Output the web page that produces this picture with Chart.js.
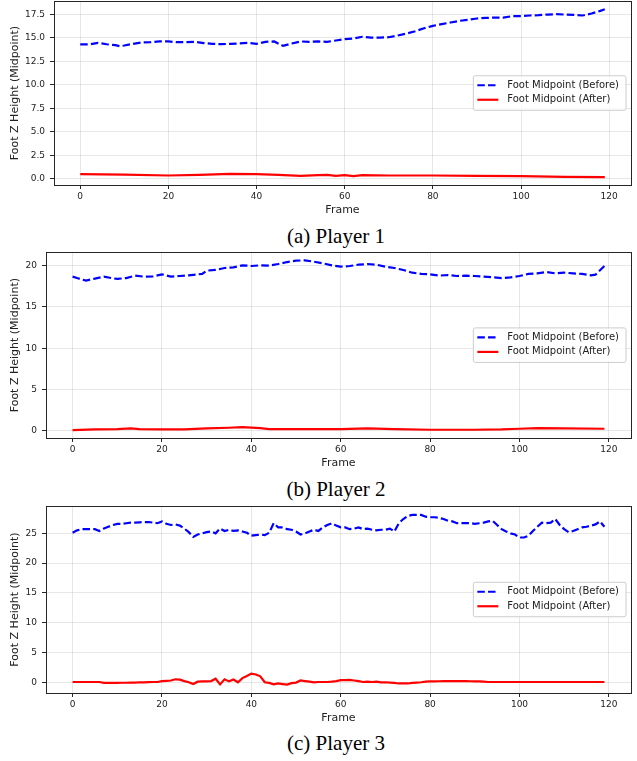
<!DOCTYPE html>
<html>
<head>
<meta charset="utf-8">
<title>Foot Z Height</title>
<script src="https://cdn.jsdelivr.net/npm/chart.js@4.4.1/dist/chart.umd.min.js"></script>
<style>
  html, body { margin: 0; padding: 0; background: #fff; }
  #page { position: relative; width: 637px; height: 761px; overflow: hidden; }
  #page canvas { position: absolute; left: 0; }
  .caption {
    position: absolute; left: 0; width: 672px; text-align: center;
    font-family: "Liberation Serif", "Times New Roman", serif;
    font-size: 21px; line-height: 21px; color: #000; white-space: nowrap;
  }
</style>
</head>
<body>
<div id="page">
  <canvas id="chart1" width="637" height="217" style="top:0px"></canvas>
  <div class="caption" style="top:226px">(a) Player 1</div>
  <canvas id="chart2" width="637" height="225" style="top:245px"></canvas>
  <div class="caption" style="top:479px">(b) Player 2</div>
  <canvas id="chart3" width="637" height="225" style="top:500px"></canvas>
  <div class="caption" style="top:733px">(c) Player 3</div>
</div>
<script>
// shared axis ticks
const xTicks = [0, 20, 40, 60, 80, 100, 120];
const p1YTicks = [0, 2.5, 5, 7.5, 10, 12.5, 15, 17.5];
const p2YTicks = [0, 5, 10, 15, 20];
const p3YTicks = [0, 5, 10, 15, 20, 25];

// Player 1
const p1BeforeFrames = [0, 2, 4, 6, 8, 9, 10, 12, 14, 16, 18, 20, 22, 24, 26, 28, 30, 32, 34, 36, 38, 40, 42, 44, 46, 48, 50, 52, 54, 56, 58, 60, 62, 64, 66, 68, 70, 72, 74, 76, 78, 80, 82, 84, 86, 88, 90, 92, 94, 96, 98, 100, 102, 104, 106, 108, 110, 112, 114, 116, 118, 119];
const p1Before = [14.28, 14.28, 14.45, 14.3, 14.2, 14.1, 14.17, 14.35, 14.5, 14.52, 14.6, 14.6, 14.52, 14.52, 14.56, 14.42, 14.35, 14.31, 14.35, 14.38, 14.45, 14.35, 14.56, 14.6, 14.13, 14.38, 14.6, 14.56, 14.6, 14.56, 14.7, 14.84, 14.91, 15.1, 15.0, 15.0, 15.05, 15.23, 15.44, 15.69, 16.0, 16.26, 16.44, 16.61, 16.79, 16.9, 17.04, 17.1, 17.14, 17.14, 17.29, 17.29, 17.36, 17.39, 17.46, 17.5, 17.46, 17.43, 17.36, 17.57, 17.85, 18.03];
const p1AfterFrames = [0, 10, 20, 27, 34, 40, 45, 50, 54, 56, 58, 60, 62, 64, 70, 80, 90, 100, 110, 119];
const p1After = [0.5, 0.45, 0.35, 0.42, 0.53, 0.5, 0.42, 0.3, 0.4, 0.42, 0.32, 0.39, 0.28, 0.39, 0.35, 0.35, 0.32, 0.28, 0.21, 0.18];

// Player 2
const p2BeforeFrames = [0, 1, 3, 5, 7, 9, 10, 12, 14, 16, 18, 20, 22, 24, 26, 28, 29, 30, 32, 34, 36, 38, 40, 42, 44, 46, 48, 50, 52, 54, 56, 58, 60, 62, 64, 66, 68, 70, 72, 74, 76, 78, 80, 82, 84, 86, 88, 90, 92, 94, 96, 98, 100, 102, 104, 106, 108, 110, 112, 114, 116, 117, 119];
const p2Before = [18.67, 18.5, 18.19, 18.43, 18.67, 18.47, 18.39, 18.5, 18.79, 18.67, 18.71, 18.95, 18.67, 18.75, 18.83, 18.95, 19.0, 19.4, 19.48, 19.72, 19.8, 20.04, 19.96, 20.04, 20.0, 20.2, 20.44, 20.6, 20.65, 20.48, 20.28, 20.04, 19.88, 19.96, 20.12, 20.2, 20.12, 19.88, 19.72, 19.48, 19.15, 19.0, 18.95, 18.79, 18.87, 18.75, 18.79, 18.75, 18.67, 18.59, 18.5, 18.59, 18.75, 19.0, 19.07, 19.23, 19.07, 19.15, 19.07, 19.0, 18.83, 18.91, 19.96];
const p2AfterFrames = [0, 5, 10, 13, 15, 20, 25, 30, 35, 38, 42, 44, 50, 60, 66, 72, 80, 90, 96, 100, 104, 110, 119];
const p2After = [0.08, 0.16, 0.2, 0.28, 0.2, 0.16, 0.16, 0.28, 0.36, 0.44, 0.32, 0.2, 0.2, 0.2, 0.28, 0.2, 0.12, 0.12, 0.16, 0.24, 0.32, 0.28, 0.24];

// Player 3 (one value per frame)
const p3Frames = Array.from({ length: 120 }, (_, i) => i);
const p3Before = [
  25.1, 25.5, 25.7, 25.7, 25.7, 25.7, 25.4, 25.8, 26.1, 26.4,
  26.6, 26.6, 26.7, 26.8, 26.8, 26.85, 26.9, 26.9, 26.8, 26.7,
  27.0, 26.6, 26.4, 26.5, 26.3, 25.8, 25.2, 24.4, 24.8, 25.0,
  25.2, 25.3, 25.0, 25.8, 25.4, 25.6, 25.4, 25.5, 25.3, 25.1,
  24.6, 24.7, 24.8, 24.7, 25.1, 26.7, 26.0, 26.0, 25.7, 25.6,
  25.3, 24.8, 25.0, 25.3, 25.6, 25.4, 26.0, 26.4, 26.7, 26.3,
  26.0, 26.0, 25.7, 25.8, 26.0, 25.7, 25.8, 25.6, 25.5, 25.6,
  25.6, 25.8, 25.3, 26.7, 27.4, 27.9, 28.1, 28.1, 28.1, 27.8,
  27.7, 27.7, 27.6, 27.4, 27.1, 27.0, 26.7, 26.7, 26.7, 26.7,
  26.6, 26.7, 26.8, 27.0, 27.1, 26.4, 25.7, 25.3, 25.0, 24.8,
  24.3, 24.3, 24.6, 25.4, 26.1, 26.8, 26.7, 26.8, 27.4, 26.4,
  25.7, 25.2, 25.4, 25.7, 26.0, 26.1, 26.3, 26.5, 27.0, 26.1
];
const p3After = [
  0.05, 0.05, 0.05, 0.05, 0.05, 0.05, 0.05, -0.1, -0.1, -0.1,
  -0.1, -0.08, -0.08, -0.05, -0.05, 0, 0, 0.03, 0.05, 0.05,
  0.2, 0.25, 0.3, 0.5, 0.45, 0.2, 0, -0.3, 0.1, 0.15,
  0.15, 0.2, 0.6, -0.35, 0.5, 0.15, 0.45, 0, 0.7, 1.05,
  1.45, 1.3, 1.0, 0, -0.1, -0.35, -0.2, -0.3, -0.4, -0.15,
  -0.05, 0.3, 0.2, 0.1, 0, 0.05, 0.05, 0.05, 0.1, 0.2,
  0.35, 0.35, 0.4, 0.3, 0.2, 0.05, 0.1, 0.05, 0.1, 0,
  0, -0.05, -0.1, -0.2, -0.2, -0.2, -0.1, -0.05, 0, 0.1,
  0.15, 0.15, 0.17, 0.18, 0.2, 0.2, 0.2, 0.2, 0.18, 0.17,
  0.15, 0.15, 0.1, 0.05, 0.05, 0.05, 0.05, 0.05, 0.05, 0.05,
  0.05, 0.05, 0.05, 0.05, 0.05, 0.05, 0.05, 0.05, 0.05, 0.05,
  0.05, 0.05, 0.05, 0.05, 0.05, 0.05, 0.05, 0.05, 0.05, 0.05
];

Chart.defaults.font.family = '"DejaVu Sans", sans-serif';

const textColor = '#222222';
const spineColor = '#262626';
const gridColor = 'rgba(176, 176, 176, 0.3)';

function series(frames, values) {
  return frames.map((f, i) => ({ x: f, y: values[i] }));
}

// matplotlib-like box around the axes + legend at "center right"
const frameAndLegend = {
  id: 'frameAndLegend',
  afterDraw(chart) {
    const { ctx, chartArea: a } = chart;
    ctx.save();
    ctx.strokeStyle = spineColor;
    ctx.lineWidth = 1;
    ctx.strokeRect(Math.round(a.left) + 0.5, Math.round(a.top) + 0.5,
      Math.round(a.right - a.left), Math.round(a.bottom - a.top));

    ctx.font = '10px "DejaVu Sans"';
    const sets = chart.data.datasets;
    const textW = Math.max(...sets.map(d => ctx.measureText(d.label).width));
    const w = 34 + textW + 7;
    const h = 34.5;
    const left = a.right - 5 - w;
    const top = (a.top + a.bottom) / 2 - h / 2;
    ctx.beginPath();
    ctx.roundRect(left, top, w, h, 2);
    ctx.fillStyle = 'rgba(255, 255, 255, 0.8)';
    ctx.fill();
    ctx.strokeStyle = '#cccccc';
    ctx.stroke();
    sets.forEach((d, i) => {
      const y = top + 9.5 + i * 14.5;
      ctx.beginPath();
      ctx.setLineDash(d.borderDash || []);
      ctx.strokeStyle = d.borderColor;
      ctx.lineWidth = d.borderWidth;
      ctx.moveTo(left + 4, y);
      ctx.lineTo(left + 25, y);
      ctx.stroke();
      ctx.setLineDash([]);
      ctx.fillStyle = textColor;
      ctx.textBaseline = 'middle';
      ctx.textAlign = 'left';
      ctx.fillText(d.label, left + 34, y);
    });
    ctx.restore();
  }
};

function makeChart(id, before, after, yMin, yMax, yTicks, yAxisWidth, topPad, decimals) {
  new Chart(document.getElementById(id), {
    type: 'line',
    data: {
      datasets: [
        {
          label: 'Foot Midpoint (Before)',
          data: before,
          borderColor: '#0000ff',
          borderWidth: 2.2,
          borderDash: [7.5, 3.2],
          pointRadius: 0,
          tension: 0,
          fill: false
        },
        {
          label: 'Foot Midpoint (After)',
          data: after,
          borderColor: '#ff0000',
          borderWidth: 2.2,
          pointRadius: 0,
          tension: 0,
          fill: false
        }
      ]
    },
    options: {
      responsive: false,
      animation: false,
      events: [],
      layout: { padding: { top: topPad, right: 6, bottom: 0, left: 0 } },
      plugins: { legend: { display: false }, tooltip: { enabled: false } },
      scales: {
        x: {
          type: 'linear',
          min: -5.95,
          max: 124.95,
          afterBuildTicks: ax => { ax.ticks = xTicks.map(v => ({ value: v })); },
          afterFit: ax => { ax.height = 32; ax.paddingLeft = 0; ax.paddingRight = 0; },
          ticks: { font: { size: 9 }, color: textColor, padding: 2, maxRotation: 0, autoSkip: false },
          grid: { color: gridColor, tickColor: spineColor, tickLength: 4 },
          border: { display: false },
          title: {
            display: true, text: 'Frame', color: textColor,
            font: { size: 11 }, padding: { top: 0, bottom: 0 }
          }
        },
        y: {
          type: 'linear',
          min: yMin,
          max: yMax,
          afterBuildTicks: ax => { ax.ticks = yTicks.map(v => ({ value: v })); },
          afterFit: ax => { ax.width = yAxisWidth; ax.paddingTop = 0; ax.paddingBottom = 0; },
          ticks: {
            font: { size: 9 }, color: textColor, padding: 5, autoSkip: false,
            callback: v => v.toFixed(decimals)
          },
          grid: { color: gridColor, tickColor: spineColor, tickLength: 4 },
          border: { display: false },
          title: {
            display: true, text: 'Foot Z Height (Midpoint)', color: textColor,
            font: { size: 11 }, padding: { top: 9, bottom: 0 }
          }
        }
      }
    },
    plugins: [frameAndLegend]
  });
}

makeChart('chart1', series(p1BeforeFrames, p1Before), series(p1AfterFrames, p1After),
  -0.66, 18.9, p1YTicks, 54, 1, 1);
makeChart('chart2', series(p2BeforeFrames, p2Before), series(p2AfterFrames, p2After),
  -0.88, 21.62, p2YTicks, 46, 7.3, 0);
makeChart('chart3', series(p3Frames, p3Before), series(p3Frames, p3After),
  -1.8, 29.59, p3YTicks, 46, 6, 0);
</script>
</body>
</html>
